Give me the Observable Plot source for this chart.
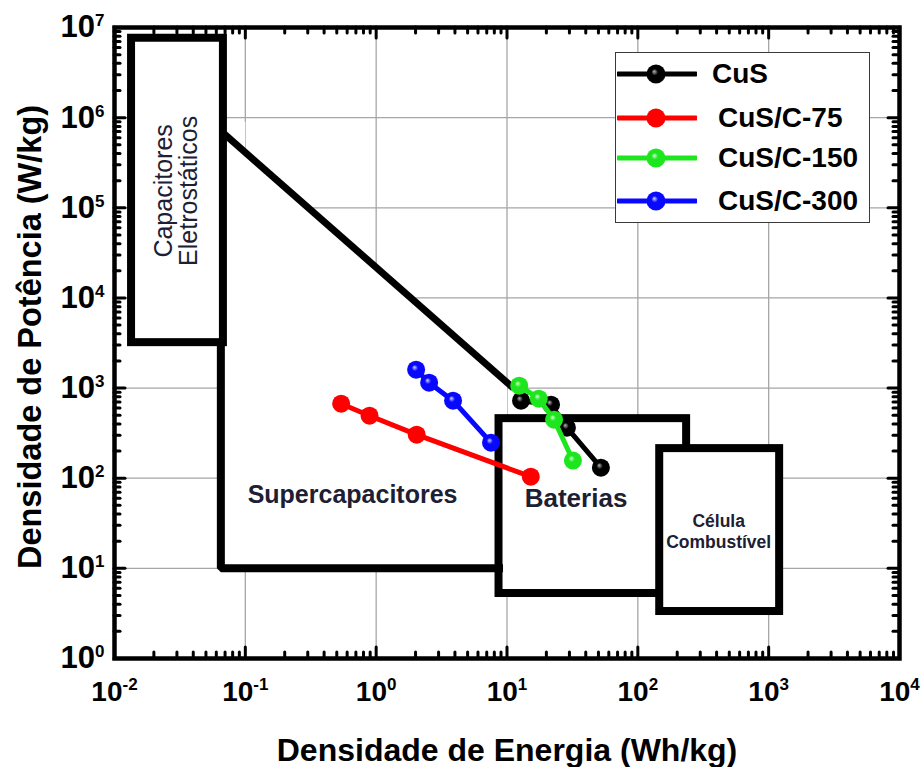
<!DOCTYPE html>
<html>
<head>
<meta charset="utf-8">
<script src="https://cdn.jsdelivr.net/npm/d3@7"></script>
<script src="https://cdn.jsdelivr.net/npm/@observablehq/plot@0.6"></script>
<style>
  body { margin: 0; background: #fff; }
  #chart { position: relative; width: 924px; height: 767px; font-family: "Liberation Sans", Arial, sans-serif; }
  #legend { position: absolute; left: 615px; top: 52px; width: 253px; height: 169px;
            border: 1.5px solid #3a3a3a; background: #fff; }
  .row { position: absolute; left: 1px; height: 30px; display: flex; align-items: center; }
  .row svg { display: block; }
  .row span { font: bold 28px "Liberation Sans", Arial, sans-serif; color: #000; white-space: pre; }
</style>
</head>
<body>
<div id="chart"></div>
<script>
// Ragone plot: power density vs energy density, log–log
const series = ["CuS", "CuS/C-75", "CuS/C-150", "CuS/C-300"];
const seriesColors = ["#000000", "#ff0000", "#1ee61e", "#0808ff"];
const highlight = ["#b8b8b8", "#ff0000", "#d8ffd8", "#d0d8ff"];

// energy density (Wh/kg) and power density (W/kg) per material
const energyCuS = [12.8, 21.7, 28.7, 52.2];
const powerCuS = [725, 655, 364, 131];
const energyC75 = [0.54, 0.89, 2.04, 15.2];
const powerC75 = [671, 494, 304, 104];
const energyC150 = [12.4, 17.5, 22.9, 31.9];
const powerC150 = [1063, 763, 446, 157];
const energyC300 = [2.02, 2.54, 3.87, 7.55];
const powerC300 = [1600, 1148, 725, 248];

// device regions (energy range, power range)
const regionNames = ["Capacitores\nEletrostáticos", "Baterias", "Célula\nCombustível"];
const regionEnergyMin = [0.0135, 8.69, 147];
const regionEnergyMax = [0.068, 236, 1213];
const regionPowerMin = [3190, 5.26, 3.32];
const regionPowerMax = [7.6e6, 458, 213];

// supercapacitor region: outline and the upper power limit line
const superOutlineEnergy = [0.065, 0.065, 8.69];
const superOutlinePower = [3190, 10, 10];
const superLimitEnergy = [0.069, 11.2];
const superLimitPower = [6.6e5, 1000];
const superAreaEnergy = [0.065, 0.065, 0.1, 0.1, 10, 10];
const superAreaPower = [10, 9e5, 9e5, 4.5e5, 1175, 10];

// label anchor points
const labelNames = ["Capacitores\nEletrostáticos", "Supercapacitores", "Baterias", "Célula\nCombustível"];
const labelEnergy = [0.0297, 0.66, 33.7, 415];
const labelPower = [1.54e5, 65.8, 59, 26.2];

// axis decades
const xDecades = [1e-2, 1e-1, 1e0, 1e1, 1e2, 1e3, 1e4];
const yDecades = [1e0, 1e1, 1e2, 1e3, 1e4, 1e5, 1e6, 1e7];

const energies = [energyCuS, energyC75, energyC150, energyC300];
const powers = [powerCuS, powerC75, powerC150, powerC300];
const points = series.flatMap((s, i) => energies[i].map((e, j) => ({series: s, energy: e, power: powers[i][j]})));
const regions = regionNames.map((n, i) => ({name: n, e1: regionEnergyMin[i], e2: regionEnergyMax[i], p1: regionPowerMin[i], p2: regionPowerMax[i]}));
const zip = (a, b) => a.map((v, i) => ({energy: v, power: b[i]}));
const labels = labelNames.map((n, i) => ({name: n, energy: labelEnergy[i], power: labelPower[i]}));

const logX = d3.scaleLog().domain([1e-2, 1e4]);
const logY = d3.scaleLog().domain([1e0, 1e7]);
const minorX = logX.ticks().filter(v => !xDecades.some(d => Math.abs(d - v) / d < 1e-9));
const minorY = logY.ticks().filter(v => !yDecades.some(d => Math.abs(d - v) / d < 1e-9));

const W = 924, H = 767, mL = 114, mR = 25, mT = 27, mB = 109;
const innerH = H - mT - mB, innerW = W - mL - mR;
const major = 11, minor = 6;
const tickStyle = {stroke: "#000", strokeWidth: 3, strokeLinecap: "round"};
const regionText = {fill: "#1d2033", fontFamily: "Liberation Sans, Arial, sans-serif"};

const marks = [
  Plot.ruleX(xDecades, {stroke: "#a6a6a6", strokeWidth: 1.3}),
  Plot.ruleY(yDecades, {stroke: "#a6a6a6", strokeWidth: 1.3}),
  Plot.line(zip(superAreaEnergy, superAreaPower), {x: "energy", y: "power", fill: "white", stroke: "none"}),
  Plot.rect(regions.slice(1), {x1: "e1", x2: "e2", y1: "p1", y2: "p2", fill: "white", stroke: "#000", strokeWidth: 8}),
  Plot.line(zip(superOutlineEnergy, superOutlinePower), {x: "energy", y: "power", stroke: "#000", strokeWidth: 8, strokeLinejoin: "miter", strokeLinecap: "square"}),
  Plot.rect(regions.slice(0, 1), {x1: "e1", x2: "e2", y1: "p1", y2: "p2", fill: "white", stroke: "#000", strokeWidth: 8}),
  Plot.line(zip(superLimitEnergy, superLimitPower), {x: "energy", y: "power", stroke: "#000", strokeWidth: 7, strokeLinecap: "butt"}),
  // region labels
  Plot.text(labels.slice(0, 1), {x: "energy", y: "power", text: "name", rotate: -90, fontSize: 25, lineHeight: 1.0, ...regionText}),
  Plot.text(labels.slice(1, 2), {x: "energy", y: "power", text: "name", fontSize: 25, fontWeight: "bold", ...regionText}),
  Plot.text(labels.slice(2, 3), {x: "energy", y: "power", text: "name", fontSize: 26, fontWeight: "bold", ...regionText}),
  Plot.text(labels.slice(3), {x: "energy", y: "power", text: "name", fontSize: 17.5, fontWeight: "bold", lineHeight: 1.2, ...regionText}),
];

// series lines with their markers
series.forEach((s, i) => {
  const rows = points.filter(d => d.series === s);
  marks.push(Plot.line(rows, {x: "energy", y: "power", stroke: seriesColors[i], strokeWidth: 5}));
  marks.push(Plot.dot(rows, {x: "energy", y: "power", r: 9, fill: `url(#ball${i})`, stroke: "none"}));
});

marks.push(
  // inward ticks on all four sides
  Plot.tickX(xDecades, {x: d => d, insetTop: innerH - major, ...tickStyle}),
  Plot.tickX(minorX, {x: d => d, insetTop: innerH - minor, ...tickStyle}),
  Plot.tickX(xDecades, {x: d => d, insetBottom: innerH - major, ...tickStyle}),
  Plot.tickX(minorX, {x: d => d, insetBottom: innerH - minor, ...tickStyle}),
  Plot.tickY(yDecades, {y: d => d, insetRight: innerW - major, ...tickStyle}),
  Plot.tickY(minorY, {y: d => d, insetRight: innerW - minor, ...tickStyle}),
  Plot.tickY(yDecades, {y: d => d, insetLeft: innerW - major, ...tickStyle}),
  Plot.tickY(minorY, {y: d => d, insetLeft: innerW - minor, ...tickStyle}),
  Plot.frame({stroke: "#000", strokeWidth: 4.5}),
  // tick labels as 10^n
  Plot.text(xDecades, {x: d => d, frameAnchor: "bottom", dy: 34, lineAnchor: "middle", text: d => `10^${Math.round(Math.log10(d))}`,
    fontSize: 28, fontWeight: "bold", fill: "#000"}),
  Plot.text(yDecades, {y: d => d, frameAnchor: "left", dx: -10, textAnchor: "end", lineAnchor: "middle", text: d => `10^${Math.round(Math.log10(d))}`,
    fontSize: 31, fontWeight: "bold", fill: "#000"}),
  // axis titles
  Plot.text(["Densidade de Energia (Wh/kg)"], {frameAnchor: "bottom", dy: 92, lineAnchor: "middle", textAnchor: "middle",
    text: d => d, fontSize: 32, fontWeight: "bold", fill: "#000"}),
  Plot.text(["Densidade de Potência (W/kg)"], {frameAnchor: "left", dx: -84, dy: -6, rotate: -90, lineAnchor: "middle", textAnchor: "middle",
    text: d => d, fontSize: 32.5, fontWeight: "bold", fill: "#000"})
);

const svg = Plot.plot({
  width: W, height: H,
  marginLeft: mL, marginRight: mR, marginTop: mT, marginBottom: mB,
  x: {type: "log", domain: [1e-2, 1e4], axis: null},
  y: {type: "log", domain: [1e0, 1e7], axis: null},
  style: {fontFamily: "Liberation Sans, Arial, sans-serif", background: "white", overflow: "visible"},
  marks
});

// shaded ball gradients for the markers
const defs = d3.select(svg).insert("defs", ":first-child");
seriesColors.forEach((c, i) => {
  const g = defs.append("radialGradient").attr("id", `ball${i}`).attr("cx", "50%").attr("cy", "50%").attr("r", "50%").attr("fx", "40%").attr("fy", "36%");
  g.append("stop").attr("offset", "0%").attr("stop-color", highlight[i]);
  g.append("stop").attr("offset", "35%").attr("stop-color", c);
  g.append("stop").attr("offset", "100%").attr("stop-color", c);
});

// turn "10^n" into 10 with a superscript exponent
d3.select(svg).selectAll("text").each(function() {
  const m = /^10\^(-?\d+)$/.exec(this.textContent);
  if (!m) return;
  const t = d3.select(this);
  t.text(null);
  t.append("tspan").text("10");
  t.append("tspan").attr("dy", -11).attr("font-size", 17).text(m[1]);
});

const chart = document.getElementById("chart");
chart.appendChild(svg);

// legend
const legend = document.createElement("div");
legend.id = "legend";
const rowTops = [6, 50, 90, 133];
const textPad = [95, 101, 101, 101];
series.forEach((s, i) => {
  const row = document.createElement("div");
  row.className = "row";
  row.style.top = rowTops[i] + "px";
  row.innerHTML = `<svg width="80" height="30">
      <defs><radialGradient id="lg${i}" cx="50%" cy="50%" r="50%" fx="40%" fy="36%">
        <stop offset="0%" stop-color="${highlight[i]}"/><stop offset="35%" stop-color="${seriesColors[i]}"/><stop offset="100%" stop-color="${seriesColors[i]}"/>
      </radialGradient></defs>
      <line x1="1" x2="79" y1="15" y2="15" stroke="${seriesColors[i]}" stroke-width="5" stroke-linecap="round"/>
      <circle cx="39" cy="15" r="9.5" fill="url(#lg${i})"/>
    </svg><span style="margin-left:${textPad[i] - 80}px">${s}</span>`;
  legend.appendChild(row);
});
chart.appendChild(legend);
</script>
</body>
</html>
